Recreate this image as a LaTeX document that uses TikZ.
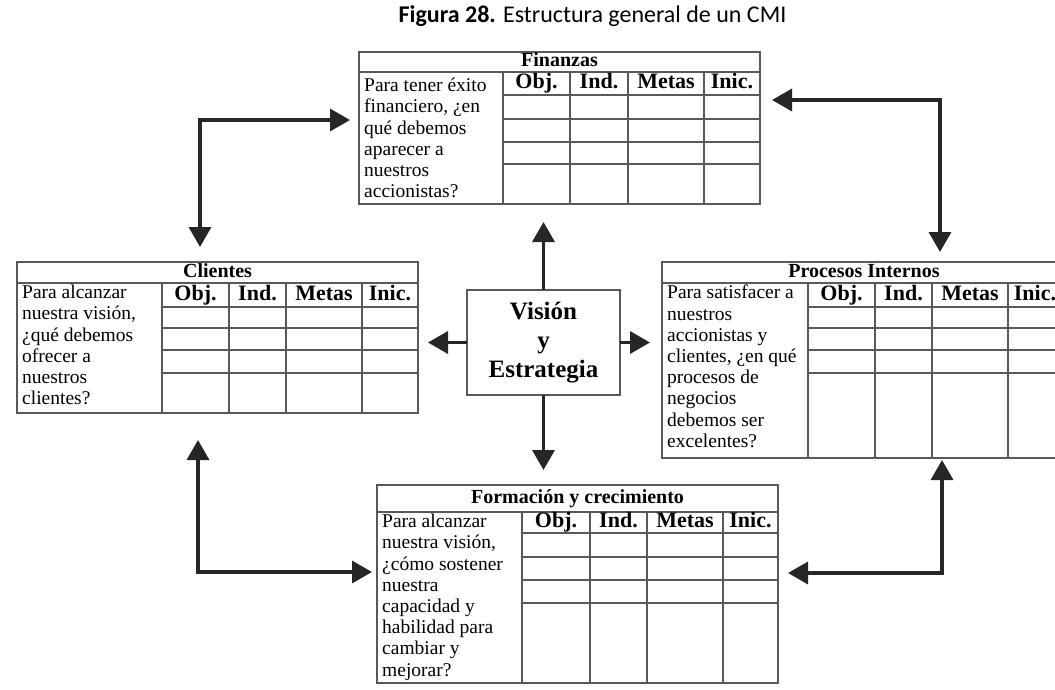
\documentclass[tikz,border=0pt]{standalone}
\usepackage{fontspec}
\setmainfont{Liberation Serif}
\newfontfamily\capfont{Carlito}
\usetikzlibrary{arrows.meta}

% Grid lines of one perspective table:
% #1 left, #2 right, #3 top, #4 bottom, #5 y of title rule,
% #6 column rules (first one separates the question), #7 row rules
\newcommand\cmigrid[7]{%
  \draw[tline] (#1,#5) -- (#2,#5);
  \foreach \c in {#6} \draw[tline] (\c,#5) -- (\c,#4);
  \foreach \r in {#7} \draw[tline] ({\firstcol},\r) -- (#2,\r);
}

\begin{document}
\begin{tikzpicture}[x=1pt,y=-1pt,
  tline/.style={draw=black!65, line width=1.6pt},
  tbl/.style={tline, rectangle, inner sep=0pt, outer sep=0pt},
  hd/.style={font=\bfseries\fontsize{20}{22}\selectfont, inner sep=0pt,
             text height=13.5pt, text depth=4.5pt},
  colhd/.style={font=\bfseries\fontsize{22}{24}\selectfont, inner sep=0pt,
                text height=15pt, text depth=5pt},
  qtext/.style={font=\fontsize{19.5}{21.2}\selectfont, align=left, anchor=north west, inner sep=0pt},
  tip/.tip={Triangle[length=20pt,width=22pt]},
  arr/.style={draw=black!85, line width=3.5pt, line join=miter, -tip},
  darr/.style={draw=black!85, line width=3.5pt, line join=miter, tip-tip},
]
\useasboundingbox (0,0) rectangle (1055,689);
\clip (0,0) rectangle (1055,689);

% caption
\node[font=\capfont\fontsize{24}{28}\selectfont, inner sep=0pt] (title) at (592.5,16)
  {\textbf{Figura 28.} Estructura general de un CMI};

% ---------- Finanzas ----------
\node[tbl, minimum width=401pt, minimum height=152pt] (fin) at (559.5,128) {};
\def\firstcol{503}
\cmigrid{359}{760}{52}{204}{72}{503,570,628,704}{95,119,142,164}
\node[hd] (finT) at (559.5,62) {Finanzas};
\node[colhd] (finA) at (536.5,83.5) {Obj.};
\node[colhd] (finB) at (599,83.5) {Ind.};
\node[colhd] (finC) at (666,83.5) {Metas};
\node[colhd] (finD) at (732,83.5) {Inic.};
\node[qtext] (finQ) at (364,78) {Para tener éxito\\financiero, ¿en\\qué debemos\\aparecer a\\nuestros\\accionistas?};

% ---------- Clientes ----------
\node[tbl, minimum width=401pt, minimum height=151pt] (cli) at (217.5,337.5) {};
\def\firstcol{162}
\cmigrid{17}{418}{262}{413}{283}{162,229,286,362}{307,328,350,373}
\node[hd] (cliT) at (217.5,272.5) {Clientes};
\node[colhd] (cliA) at (195.5,295) {Obj.};
\node[colhd] (cliB) at (257.5,295) {Ind.};
\node[colhd] (cliC) at (324,295) {Metas};
\node[colhd] (cliD) at (390,295) {Inic.};
\node[qtext] (cliQ) at (22,285) {Para alcanzar\\nuestra visión,\\¿qué debemos\\ofrecer a\\nuestros\\clientes?};

% ---------- Procesos Internos (runs past the right edge) ----------
\node[tbl, minimum width=404pt, minimum height=196pt] (pro) at (864,360) {};
\def\firstcol{808}
\cmigrid{662}{1066}{262}{458}{283}{808,875,932,1008}{307,328,350,373}
\node[hd] (proT) at (864,272.5) {Procesos Internos};
\node[colhd] (proA) at (841.5,295) {Obj.};
\node[colhd] (proB) at (903.5,295) {Ind.};
\node[colhd] (proC) at (970,295) {Metas};
\node[colhd] (proD) at (1035,295) {Inic.};
\node[qtext] (proQ) at (667,285) {Para satisfacer a\\nuestros\\accionistas y\\clientes, ¿en qué\\procesos de\\negocios\\debemos ser\\excelentes?};

% ---------- Formación y crecimiento ----------
\node[tbl, minimum width=401pt, minimum height=198pt] (frm) at (577.5,584) {};
\def\firstcol{522}
\cmigrid{377}{778}{485}{683}{512}{522,590,647,723}{533,557,580,603}
\node[hd] (frmT) at (577.5,498.5) {Formación y crecimiento};
\node[colhd] (frmA) at (556,522.5) {Obj.};
\node[colhd] (frmB) at (618.5,522.5) {Ind.};
\node[colhd] (frmC) at (685,522.5) {Metas};
\node[colhd] (frmD) at (750.5,522.5) {Inic.};
\node[qtext] (frmQ) at (382,514) {Para alcanzar\\nuestra visión,\\¿cómo sostener\\nuestra\\capacidad y\\habilidad para\\cambiar y\\mejorar?};

% ---------- Visión y Estrategia ----------
\node[tbl, fill=white, minimum width=153pt, minimum height=105pt, align=center,
      font=\bfseries\fontsize{25}{29}\selectfont] (vis) at (543.5,342.5)
  {Visión\\y\\Estrategia};

% arrows from the centre
\draw[arr, shorten >=18pt] (vis.north) -- (vis.north |- fin.south);
\draw[arr, shorten >=15pt] (vis.south) -- (vis.south |- frm.north);
\draw[arr, shorten >=10pt] (vis.west) -- (vis.west -| cli.east);
\draw[arr, shorten >=12pt] (vis.east) -- (vis.east -| pro.west);

% links between neighbouring perspectives
\coordinate (tl) at (200,120);
\coordinate (tr) at (940,100);
\coordinate (bl) at (198,572);
\coordinate (br) at (942,573);
\draw[darr, shorten <=15pt, shorten >=9pt] (tl |- cli.north) -- (tl) -- (tl -| fin.west);
\draw[darr, shorten <=12pt, shorten >=10pt] (tr -| fin.east) -- (tr) -- (tr |- pro.north);
\draw[darr, shorten <=27pt, shorten >=5pt] (bl |- cli.south) -- (bl) -- (bl -| frm.west);
\draw[darr, shorten <=2pt, shorten >=10pt] (br |- pro.south) -- (br) -- (br -| frm.east);
\end{tikzpicture}
\end{document}
